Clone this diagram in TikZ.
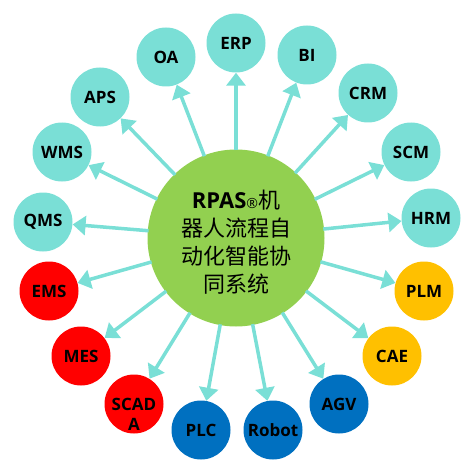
\documentclass[tikz,border=0pt]{standalone}
\usepackage{fontspec}
\setsansfont{Open Sans}
\newfontfamily\cjk{Noto Sans CJK SC}
\usepackage{tikz}
\usetikzlibrary{arrows.meta}
\definecolor{cCyan}{RGB}{122,223,214}
\definecolor{cLime}{RGB}{146,208,80}
\definecolor{cRed}{RGB}{255,0,0}
\definecolor{cGold}{RGB}{255,192,0}
\definecolor{cBlue}{RGB}{0,112,192}
\tikzset{
	core/.style   ={circle, minimum size=177pt, inner sep=0pt, fill=cLime},
	coretext/.style={align=center, yshift=-4pt, font=\fontsize{22}{28}\selectfont},
	sys/.style    ={circle, minimum size=59pt, inner sep=0pt, align=center, fill=cCyan, font=\sffamily\bfseries\fontsize{17}{20}\selectfont},
	link/.style   ={-{Triangle[length=13pt, width=19pt]}, line width=3.5pt, draw=cCyan, shorten <=-1pt},
}

\begin{document}
\begin{tikzpicture}[x=1pt, y=-1pt]
			\useasboundingbox (0,0) rectangle (472,476);
			% central system
			\node[core, label={[coretext]center:{\sffamily\bfseries RPAS}{\sffamily\fontsize{14}{14}\selectfont ®}{\cjk 机}\\ {\cjk 器人流程自}\\ {\cjk 动化智能协}\\ {\cjk 同系统}}] (rpas) at (236,238) {};
			% management systems
			\node[sys] (erp) at (236,43) {ERP};
			\node[sys] (oa) at (166,57) {OA};
			\node[sys] (bi) at (307,55) {BI};
			\node[sys] (aps) at (100,97) {APS};
			\node[sys] (crm) at (368,93) {CRM};
			\node[sys] (wms) at (62,152) {WMS};
			\node[sys] (scm) at (411,152) {SCM};
			\node[sys] (qms) at (43,222) {QMS};
			\node[sys] (hrm) at (431,218) {HRM};
			% shop floor systems
			\node[sys, fill=cRed] (ems) at (49,291) {EMS};
			\node[sys, fill=cRed] (mes) at (81,356) {MES};
			\node[sys, fill=cRed, label={[align=center, yshift=-10pt, font=\sffamily\bfseries\fontsize{17}{20}\selectfont]center:SCAD\\A}] (scada) at (134,404) {};
			\node[sys, fill=cGold] (plm) at (424,291) {PLM};
			\node[sys, fill=cGold] (cae) at (392,356) {CAE};
			% devices
			\node[sys, fill=cBlue] (plc) at (201,430) {PLC};
			\node[sys, fill=cBlue] (robot) at (273,430) {Robot};
			\node[sys, fill=cBlue] (agv) at (339,404) {AGV};
			% connectors
			\draw[link] (rpas) -- (erp);
			\draw[link] (rpas) -- (oa);
			\draw[link] (rpas) -- (bi);
			\draw[link] (rpas) -- (aps);
			\draw[link] (rpas) -- (crm);
			\draw[link] (rpas) -- (wms);
			\draw[link] (rpas) -- (scm);
			\draw[link] (rpas) -- (qms);
			\draw[link] (rpas) -- (hrm);
			\draw[link] (rpas) -- (ems);
			\draw[link] (rpas) -- (mes);
			\draw[link] (rpas) -- (scada);
			\draw[link] (rpas) -- (plm);
			\draw[link] (rpas) -- (cae);
			\draw[link] (rpas) -- (plc);
			\draw[link] (rpas) -- (robot);
			\draw[link] (rpas) -- (agv);
		\end{tikzpicture}
\end{document}
